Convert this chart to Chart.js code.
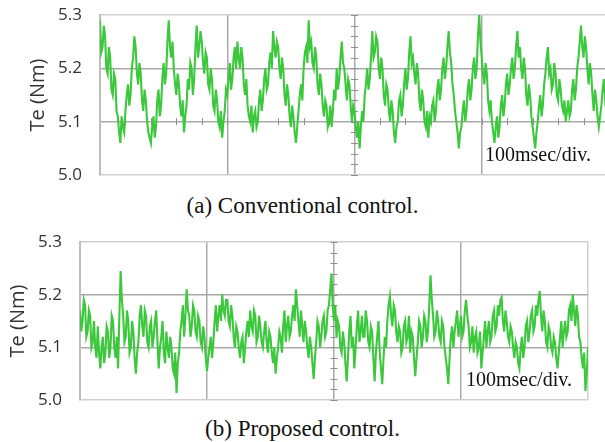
<!DOCTYPE html>
<html lang="en">
<head>
  <meta charset="UTF-8" />
  <title>Te torque ripple</title>
  <script src="https://cdn.jsdelivr.net/npm/chart.js"></script>
  <style>
    html, body { margin: 0; padding: 0; background: #fff; overflow: hidden; }
    body { width: 605px; height: 442px; position: relative; }
    canvas { position: absolute; left: 0; }
    #topChart { top: 0; }
    #bottomChart { top: 225px; }
    .caption {
      position: absolute; left: 0; width: 605px; text-align: center;
      font-family: "Liberation Serif", "Times New Roman", serif; font-size: 23px; color: #111;
      line-height: 24px;
    }
    .div-note {
      position: absolute;
      font-family: "Liberation Serif", "Times New Roman", serif; font-size: 20px; color: #111;
      line-height: 20px;
    }
  </style>
</head>
<body>

<canvas id="topChart" width="615" height="185"></canvas>
<canvas id="bottomChart" width="605" height="185"></canvas>

<div class="div-note" style="left:485px; top:144px;">100msec/div.</div>
<div class="div-note" style="left:466px; top:369px;">100msec/div.</div>

<div class="caption" style="top:194px;">(a) Conventional control.</div>
<div class="caption" style="top:417px;">(b) Proposed control.</div>

<script>
  // sampling step of the traces (ms), time axis is 100 ms per division
  const sampleStepMs = 1;
  const timeTicks = [0, 100, 200, 300, 400];
  const torqueTicks = [5.0, 5.1, 5.2, 5.3];

  // Te (Nm), conventional control, one value per ms
  const conventional = [
    5.29, 5.23, 5.24, 5.28, 5.26, 5.20, 5.19, 5.24, 5.22, 5.16, 5.15, 5.19, 5.18, 5.12, 5.11, 5.08, 5.06, 5.11, 5.09, 5.08,
    5.12, 5.15, 5.17, 5.13, 5.15, 5.20, 5.22, 5.26, 5.24, 5.19, 5.17, 5.21, 5.19, 5.14, 5.12, 5.16, 5.14, 5.10, 5.08, 5.07,
    5.06, 5.09, 5.11, 5.07, 5.09, 5.14, 5.16, 5.11, 5.13, 5.18, 5.21, 5.17, 5.19, 5.25, 5.29, 5.24, 5.22, 5.25, 5.20, 5.17,
    5.15, 5.19, 5.17, 5.13, 5.11, 5.14, 5.08, 5.11, 5.13, 5.18, 5.16, 5.21, 5.20, 5.15, 5.18, 5.24, 5.28, 5.22, 5.24, 5.27,
    5.25, 5.21, 5.19, 5.23, 5.22, 5.17, 5.16, 5.20, 5.18, 5.13, 5.12, 5.16, 5.14, 5.10, 5.09, 5.12, 5.07, 5.10, 5.12, 5.16,
    5.15, 5.18, 5.21, 5.16, 5.18, 5.22, 5.24, 5.20, 5.25, 5.22, 5.20, 5.24, 5.22, 5.17, 5.15, 5.18, 5.13, 5.11, 5.10, 5.13,
    5.08, 5.11, 5.12, 5.09, 5.10, 5.14, 5.16, 5.12, 5.14, 5.18, 5.20, 5.16, 5.17, 5.21, 5.23, 5.20, 5.27, 5.24, 5.22, 5.25,
    5.24, 5.20, 5.18, 5.22, 5.20, 5.15, 5.13, 5.17, 5.15, 5.11, 5.09, 5.13, 5.11, 5.08, 5.06, 5.09, 5.12, 5.15, 5.17, 5.14,
    5.20, 5.23, 5.24, 5.21, 5.29, 5.24, 5.25, 5.21, 5.20, 5.24, 5.22, 5.17, 5.15, 5.19, 5.17, 5.13, 5.11, 5.14, 5.13, 5.09,
    5.10, 5.13, 5.09, 5.12, 5.16, 5.14, 5.20, 5.16, 5.18, 5.22, 5.25, 5.21, 5.20, 5.17, 5.14, 5.18, 5.17, 5.13, 5.10, 5.13,
    5.12, 5.09, 5.07, 5.10, 5.05, 5.09, 5.12, 5.10, 5.15, 5.17, 5.20, 5.16, 5.18, 5.22, 5.27, 5.22, 5.23, 5.26, 5.25, 5.20,
    5.18, 5.22, 5.20, 5.15, 5.13, 5.17, 5.16, 5.12, 5.10, 5.14, 5.12, 5.08, 5.06, 5.09, 5.10, 5.14, 5.15, 5.11, 5.13, 5.17,
    5.20, 5.16, 5.18, 5.23, 5.26, 5.21, 5.22, 5.19, 5.17, 5.21, 5.19, 5.14, 5.12, 5.16, 5.14, 5.10, 5.09, 5.12, 5.07, 5.11,
    5.10, 5.13, 5.14, 5.10, 5.12, 5.16, 5.18, 5.14, 5.16, 5.20, 5.22, 5.18, 5.20, 5.24, 5.27, 5.23, 5.21, 5.17, 5.15, 5.12,
    5.10, 5.08, 5.05, 5.08, 5.09, 5.12, 5.14, 5.10, 5.12, 5.16, 5.18, 5.14, 5.16, 5.20, 5.22, 5.18, 5.20, 5.26, 5.30, 5.25,
    5.22, 5.19, 5.17, 5.21, 5.19, 5.14, 5.12, 5.14, 5.10, 5.08, 5.06, 5.09, 5.11, 5.07, 5.09, 5.13, 5.15, 5.11, 5.13, 5.17,
    5.19, 5.15, 5.17, 5.20, 5.22, 5.18, 5.20, 5.24, 5.27, 5.22, 5.24, 5.20, 5.18, 5.22, 5.20, 5.15, 5.13, 5.17, 5.15, 5.11,
    5.09, 5.07, 5.05, 5.08, 5.10, 5.13, 5.15, 5.11, 5.13, 5.17, 5.19, 5.22, 5.24, 5.19, 5.20, 5.16, 5.17, 5.21, 5.19, 5.15,
    5.14, 5.18, 5.16, 5.13, 5.12, 5.14, 5.10, 5.12, 5.14, 5.11, 5.12, 5.16, 5.18, 5.14, 5.16, 5.20, 5.22, 5.25, 5.28, 5.24,
    5.22, 5.26, 5.24, 5.20, 5.17, 5.21, 5.19, 5.15, 5.12, 5.16, 5.14, 5.11, 5.09, 5.11, 5.13, 5.16, 5.18, 5.14, 5.15, 5.19,
    5.20
  ];

  // Te (Nm), proposed control, one value per ms
  const proposed = [
    5.17, 5.13, 5.15, 5.19, 5.18, 5.12, 5.13, 5.17, 5.16, 5.10, 5.11, 5.15, 5.10, 5.08, 5.14, 5.09, 5.06, 5.10, 5.12, 5.07,
    5.09, 5.14, 5.13, 5.08, 5.10, 5.16, 5.15, 5.10, 5.08, 5.12, 5.06, 5.16, 5.245, 5.19, 5.16, 5.11, 5.12, 5.17, 5.15, 5.09,
    5.10, 5.15, 5.13, 5.08, 5.05, 5.09, 5.11, 5.16, 5.18, 5.14, 5.12, 5.17, 5.16, 5.11, 5.10, 5.14, 5.15, 5.10, 5.12, 5.15,
    5.17, 5.11, 5.06, 5.10, 5.12, 5.15, 5.09, 5.07, 5.13, 5.10, 5.08, 5.12, 5.10, 5.06, 5.05, 5.09, 5.013, 5.07, 5.09, 5.13,
    5.15, 5.18, 5.12, 5.16, 5.21, 5.17, 5.16, 5.12, 5.14, 5.18, 5.17, 5.13, 5.12, 5.16, 5.15, 5.11, 5.10, 5.14, 5.12, 5.08,
    5.055, 5.08, 5.10, 5.12, 5.08, 5.11, 5.15, 5.18, 5.13, 5.16, 5.18, 5.15, 5.20, 5.17, 5.16, 5.19, 5.19, 5.15, 5.14, 5.18,
    5.16, 5.12, 5.10, 5.14, 5.13, 5.10, 5.08, 5.11, 5.12, 5.07, 5.10, 5.13, 5.15, 5.12, 5.17, 5.14, 5.13, 5.17, 5.16, 5.11,
    5.12, 5.16, 5.14, 5.11, 5.10, 5.13, 5.15, 5.11, 5.09, 5.13, 5.12, 5.09, 5.07, 5.10, 5.05, 5.08, 5.10, 5.13, 5.12, 5.09,
    5.14, 5.17, 5.11, 5.14, 5.16, 5.12, 5.13, 5.16, 5.18, 5.15, 5.21, 5.18, 5.15, 5.12, 5.17, 5.14, 5.11, 5.15, 5.13, 5.10,
    5.08, 5.12, 5.10, 5.07, 5.04, 5.08, 5.11, 5.15, 5.14, 5.10, 5.12, 5.15, 5.16, 5.12, 5.13, 5.17, 5.18, 5.21, 5.24, 5.18,
    5.15, 5.18, 5.12, 5.15, 5.14, 5.10, 5.09, 5.13, 5.11, 5.07, 5.035, 5.08, 5.13, 5.16, 5.10, 5.12, 5.06, 5.10, 5.14, 5.17,
    5.11, 5.13, 5.16, 5.12, 5.12, 5.17, 5.15, 5.11, 5.10, 5.14, 5.13, 5.08, 5.035, 5.09, 5.12, 5.15, 5.09, 5.06, 5.03, 5.08,
    5.12, 5.10, 5.15, 5.18, 5.197, 5.16, 5.14, 5.18, 5.17, 5.13, 5.11, 5.14, 5.13, 5.09, 5.10, 5.14, 5.15, 5.11, 5.12, 5.16,
    5.09, 5.13, 5.12, 5.08, 5.045, 5.08, 5.11, 5.15, 5.14, 5.10, 5.12, 5.16, 5.15, 5.11, 5.13, 5.18, 5.237, 5.19, 5.16, 5.12,
    5.13, 5.17, 5.15, 5.12, 5.11, 5.15, 5.14, 5.10, 5.08, 5.06, 5.03, 5.08, 5.12, 5.14, 5.10, 5.13, 5.15, 5.17, 5.12, 5.14,
    5.16, 5.12, 5.13, 5.17, 5.19, 5.16, 5.14, 5.10, 5.11, 5.14, 5.09, 5.12, 5.13, 5.09, 5.10, 5.13, 5.06, 5.09, 5.12, 5.15,
    5.10, 5.13, 5.15, 5.11, 5.12, 5.16, 5.17, 5.13, 5.14, 5.18, 5.16, 5.19, 5.195, 5.15, 5.13, 5.17, 5.15, 5.12, 5.11, 5.14,
    5.13, 5.10, 5.08, 5.11, 5.10, 5.07, 5.06, 5.10, 5.12, 5.08, 5.10, 5.14, 5.15, 5.11, 5.13, 5.16, 5.17, 5.13, 5.14, 5.18,
    5.16, 5.19, 5.207, 5.16, 5.13, 5.17, 5.15, 5.11, 5.10, 5.14, 5.13, 5.10, 5.09, 5.12, 5.11, 5.08, 5.06, 5.09, 5.12, 5.15,
    5.10, 5.13, 5.15, 5.12, 5.13, 5.17, 5.18, 5.15, 5.20, 5.17, 5.14, 5.18, 5.16, 5.12, 5.11, 5.08, 5.06, 5.09, 5.017, 5.05,
    5.10
  ];

  const traceColor = '#3cc83c';
  const gridInner = '#a9a9a9';
  const gridEdge = '#cfcfcf';

  // scope graticule: small marks on the centre lines
  const graticulePlugin = {
    id: 'graticule',
    beforeDatasetsDraw(chart, args, opts) {
      const { ctx, scales: { x, y } } = chart;
      ctx.save();
      ctx.strokeStyle = '#8f8f8f';
      ctx.lineWidth = 1;
      const cx = x.getPixelForValue(200);
      for (let v = 5.0; v <= 5.3001; v += 0.02) {
        const py = Math.round(y.getPixelForValue(v)) + 0.5;
        ctx.beginPath();
        ctx.moveTo(cx - 3.5, py);
        ctx.lineTo(cx + 3.5, py);
        ctx.stroke();
      }
      if (opts.hLine) {
        const py = y.getPixelForValue(opts.hLine);
        for (let t = 20; t < 400; t += 20) {
          const px = Math.round(x.getPixelForValue(t)) + 0.5;
          ctx.beginPath();
          ctx.moveTo(px, py - 3.5);
          ctx.lineTo(px, py + 3.5);
          ctx.stroke();
        }
      }
      ctx.restore();
    }
  };

  function makeScope(canvasId, values, axisWidth, titlePad, pad, hLine) {
    const points = values.map((v, i) => ({ x: i * sampleStepMs, y: v }));
    new Chart(document.getElementById(canvasId), {
      type: 'line',
      data: {
        datasets: [{
          data: points,
          borderColor: traceColor,
          borderWidth: 2.1,
          pointRadius: 0,
          tension: 0
        }]
      },
      plugins: [graticulePlugin],
      options: {
        responsive: false,
        animation: false,
        layout: { padding: pad },
        plugins: {
          legend: { display: false },
          tooltip: { enabled: false },
          graticule: { hLine: hLine }
        },
        scales: {
          x: {
            type: 'linear',
            min: timeTicks[0],
            max: timeTicks[timeTicks.length - 1],
            afterBuildTicks: s => { s.ticks = timeTicks.map(v => ({ value: v })); },
            ticks: { display: false },
            grid: {
              drawTicks: false,
              lineWidth: 1.5,
              color: c => (c.index === 0 || c.index === timeTicks.length - 1) ? gridEdge : gridInner
            },
            border: { display: false },
            afterFit: s => { s.height = 0; s.paddingLeft = 0; s.paddingRight = 0; }
          },
          y: {
            min: torqueTicks[0],
            max: torqueTicks[torqueTicks.length - 1],
            afterBuildTicks: s => { s.ticks = torqueTicks.map(v => ({ value: v })); },
            ticks: {
              padding: 18,
              color: '#333',
              font: { family: '"Open Sans", sans-serif', size: 17 },
              callback: v => v.toFixed(1)
            },
            grid: {
              drawTicks: false,
              lineWidth: 1.5,
              color: c => (c.index === 0 || c.index === torqueTicks.length - 1) ? gridEdge : gridInner
            },
            border: { color: '#bdbdbd', width: 2 },
            title: {
              display: true,
              text: 'Te (Nm)',
              color: '#333',
              font: { family: '"Open Sans", sans-serif', size: 20 },
              padding: { top: titlePad, bottom: 0 }
            },
            afterFit: s => { s.width = axisWidth; s.paddingTop = 0; s.paddingBottom = 0; }
          }
        }
      }
    });
  }

  makeScope('topChart', conventional, 100, 26, { top: 15, bottom: 10, right: 6, left: 0 }, 5.1);
  makeScope('bottomChart', proposed, 80, 6, { top: 17, bottom: 10, right: 17, left: 0 }, null);
</script>

</body>
</html>
